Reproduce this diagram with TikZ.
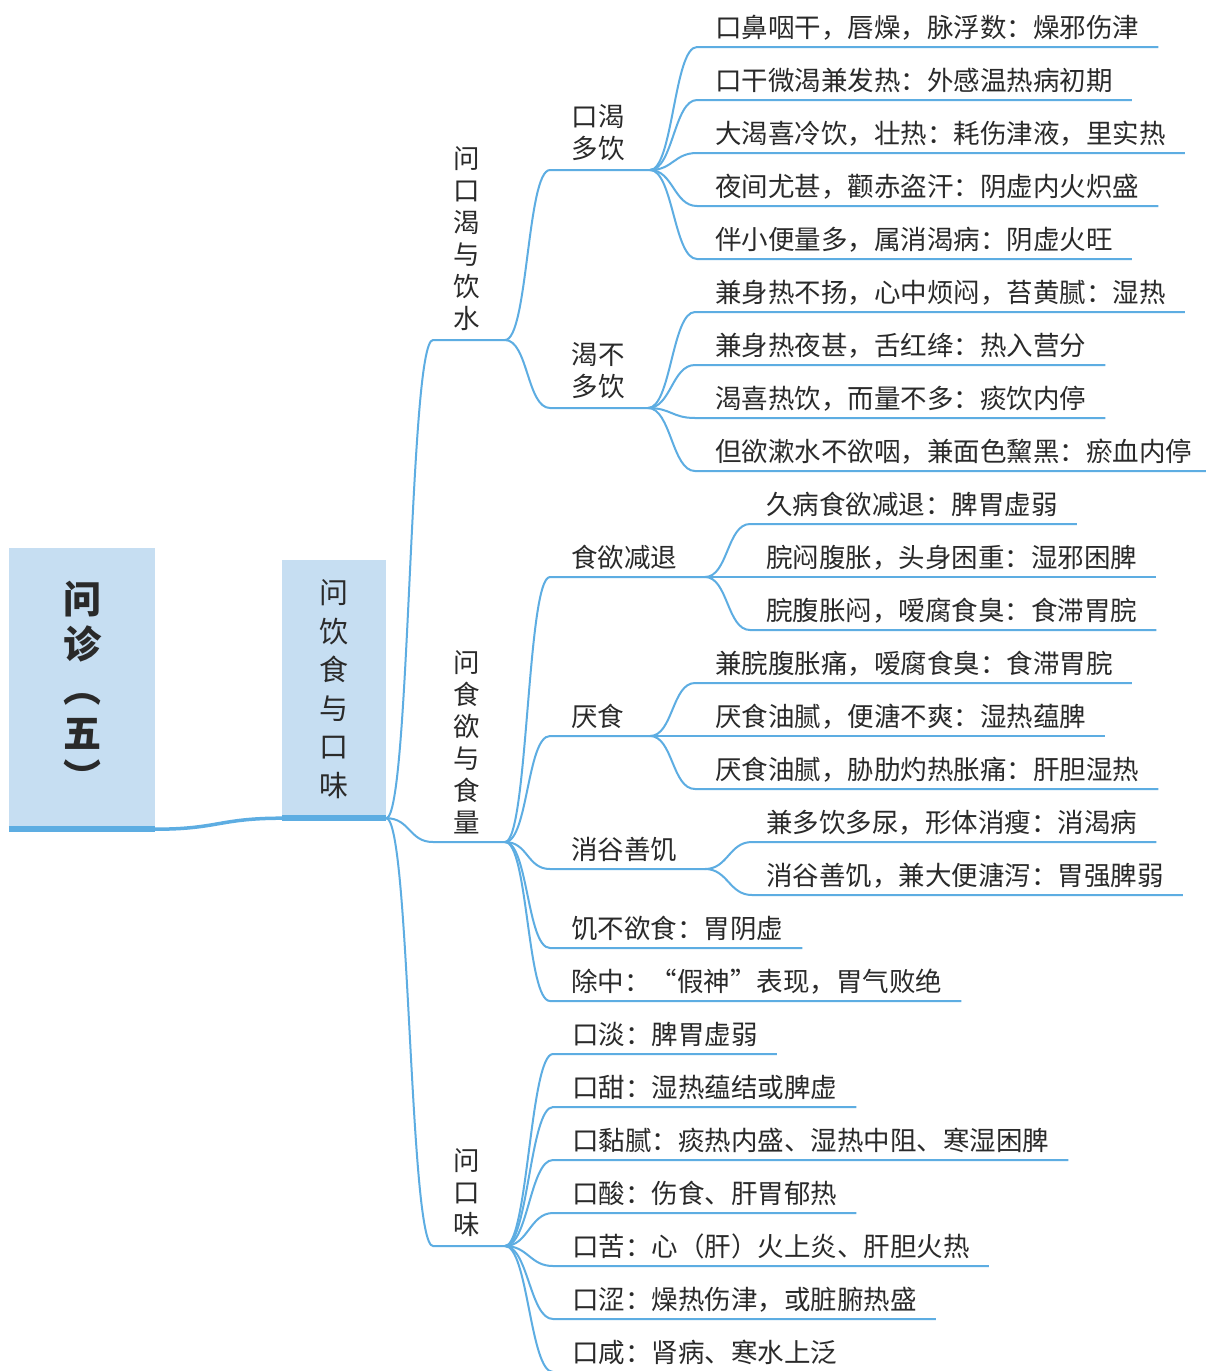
\documentclass[tikz,border=0pt]{standalone}
\usepackage{fontspec}
\setmainfont{Noto Sans CJK SC}
\usetikzlibrary{calc}
\definecolor{lineblue}{HTML}{5DADE2}
\definecolor{boxblue}{HTML}{C6DEF2}
\definecolor{txt}{HTML}{2A2A2A}
\newcommand\vs{\rule[-0.12em]{0pt}{1em}}
\newcommand\mmleaf[6]{%
  \coordinate (#1s) at (#3,#4);
  \node[leaftxt, anchor=base west] (#1) at (#5,#4-10) {#6};
  \path ($(#1.base east)+(19,0)$) coordinate (#1t);
  \draw[br] (#2) .. controls +(23,0) and +(-23,0) .. (#1s) -- (#1s -| #1t);
}
\begin{document}
\begin{tikzpicture}[x=1pt,y=-1pt,
  br/.style={draw=lineblue, line width=2pt},
  bar/.style={draw=lineblue, line width=5.5pt},
  leaftxt/.style={inner sep=0pt, text=txt, font=\fontsize{26.5}{32}\selectfont},
  vlab/.style={inner sep=0pt, text=txt, align=center, font=\fontsize{26.5}{32}\selectfont},
  topbox/.style={rectangle, fill=boxblue, inner sep=0pt, text=txt, align=center}]
\useasboundingbox (0,0) rectangle (1206,1371);
\fill[white] (0,0) rectangle (1206,1371);
\clip (0,0) rectangle (1206,1371);

% root and second-level boxes
\node[topbox, minimum width=146pt, minimum height=281pt,
      font=\bfseries\fontsize{38}{44.5}\selectfont] (root) at (82,688.5)
      {\vs 问\\诊\\︵\\五\\︶\vs};
\node[topbox, minimum width=104pt, minimum height=258pt,
      font=\fontsize{29}{38.6}\selectfont] (sec) at (334,689)
      {\vs 问\\饮\\食\\与\\口\\味\vs};
\draw[bar] (root.south west) -- (root.south east);
\draw[bar] (sec.south west) -- (sec.south east);
\draw[draw=lineblue, line width=3.5pt] (root.south east) .. controls +(63,0) and +(-63,0) .. (sec.south west);

% group A: 问口渴与饮水
\coordinate (gAs) at (433,340); \coordinate (gAe) at (505,340);
\node[vlab] (gA) at (467,238) {\vs 问\\口\\渴\\与\\饮\\水\vs};
\draw[br] (sec.south east) .. controls +(24,0) and +(-24,0) .. (gAs) -- (gAe);

% group B: 问食欲与食量
\coordinate (gBs) at (433,842); \coordinate (gBe) at (505,842);
\node[vlab] (gB) at (467,742.5) {\vs 问\\食\\欲\\与\\食\\量\vs};
\draw[br] (sec.south east) .. controls +(24,0) and +(-24,0) .. (gBs) -- (gBe);

% group C: 问口味
\coordinate (gCs) at (433,1246); \coordinate (gCe) at (505,1246);
\node[vlab] (gC) at (467,1192) {\vs 问\\口\\味\vs};
\draw[br] (sec.south east) .. controls +(24,0) and +(-24,0) .. (gCs) -- (gCe);

% subgroup A: 口渴多饮
\coordinate (sAs) at (550,170); \coordinate (sAe) at (650,170);
\node[vlab] (sA) at (598,132) {\vs 口渴\\多饮\vs};
\draw[br] (gAe) .. controls +(23,0) and +(-23,0) .. (sAs) -- (sAe);
\mmleaf{a0}{sAe}{697}{47}{715}{口鼻咽干，唇燥，脉浮数：燥邪伤津}
\mmleaf{a1}{sAe}{697}{100}{715}{口干微渴兼发热：外感温热病初期}
\mmleaf{a2}{sAe}{697}{153}{715}{大渴喜冷饮，壮热：耗伤津液，里实热}
\mmleaf{a3}{sAe}{697}{206}{715}{夜间尤甚，颧赤盗汗：阴虚内火炽盛}
\mmleaf{a4}{sAe}{697}{259}{715}{伴小便量多，属消渴病：阴虚火旺}

% subgroup B: 渴不多饮
\coordinate (sBs) at (550,408); \coordinate (sBe) at (648,408);
\node[vlab] (sB) at (598,370) {\vs 渴不\\多饮\vs};
\draw[br] (gAe) .. controls +(23,0) and +(-23,0) .. (sBs) -- (sBe);
\mmleaf{b0}{sBe}{695}{312}{715}{兼身热不扬，心中烦闷，苔黄腻：湿热}
\mmleaf{b1}{sBe}{695}{365}{715}{兼身热夜甚，舌红绛：热入营分}
\mmleaf{b2}{sBe}{695}{418}{715}{渴喜热饮，而量不多：痰饮内停}
\mmleaf{b3}{sBe}{695}{471}{715}{但欲漱水不欲咽，兼面色黧黑：瘀血内停}

% subgroup C: 食欲减退
\coordinate (sCs) at (550,577); \coordinate (sCe) at (705,577);
\node[leaftxt, anchor=base west] (sC) at (571,567) {食欲减退};
\draw[br] (gBe) .. controls +(23,0) and +(-23,0) .. (sCs) -- (sCe);
\mmleaf{c0}{sCe}{750}{524}{766}{久病食欲减退：脾胃虚弱}
\mmleaf{c1}{sCe}{750}{577}{766}{脘闷腹胀，头身困重：湿邪困脾}
\mmleaf{c2}{sCe}{750}{630}{766}{脘腹胀闷，嗳腐食臭：食滞胃脘}

% subgroup D: 厌食
\coordinate (sDs) at (550,736); \coordinate (sDe) at (650,736);
\node[leaftxt, anchor=base west] (sD) at (571,726) {厌食};
\draw[br] (gBe) .. controls +(23,0) and +(-23,0) .. (sDs) -- (sDe);
\mmleaf{d0}{sDe}{695}{683}{715}{兼脘腹胀痛，嗳腐食臭：食滞胃脘}
\mmleaf{d1}{sDe}{695}{736}{715}{厌食油腻，便溏不爽：湿热蕴脾}
\mmleaf{d2}{sDe}{695}{789}{715}{厌食油腻，胁肋灼热胀痛：肝胆湿热}

% subgroup E: 消谷善饥
\coordinate (sEs) at (550,869); \coordinate (sEe) at (705,869);
\node[leaftxt, anchor=base west] (sE) at (571,859) {消谷善饥};
\draw[br] (gBe) .. controls +(23,0) and +(-23,0) .. (sEs) -- (sEe);
\mmleaf{e0}{sEe}{752}{842}{766}{兼多饮多尿，形体消瘦：消渴病}
\mmleaf{e1}{sEe}{752}{895}{766}{消谷善饥，兼大便溏泻：胃强脾弱}

% direct leaves of group B
\mmleaf{f0}{gBe}{550}{948}{571}{饥不欲食：胃阴虚}
\mmleaf{f1}{gBe}{550}{1001}{571}{除中：“假神”表现，胃气败绝}

% leaves of group C
\mmleaf{h0}{gCe}{553}{1054}{572}{口淡：脾胃虚弱}
\mmleaf{h1}{gCe}{553}{1107}{572}{口甜：湿热蕴结或脾虚}
\mmleaf{h2}{gCe}{553}{1160}{572}{口黏腻：痰热内盛、湿热中阻、寒湿困脾}
\mmleaf{h3}{gCe}{553}{1213}{572}{口酸：伤食、肝胃郁热}
\mmleaf{h4}{gCe}{553}{1266}{572}{口苦：心（肝）火上炎、肝胆火热}
\mmleaf{h5}{gCe}{553}{1319}{572}{口涩：燥热伤津，或脏腑热盛}
\mmleaf{h6}{gCe}{553}{1372}{572}{口咸：肾病、寒水上泛}
\end{tikzpicture}
\end{document}
